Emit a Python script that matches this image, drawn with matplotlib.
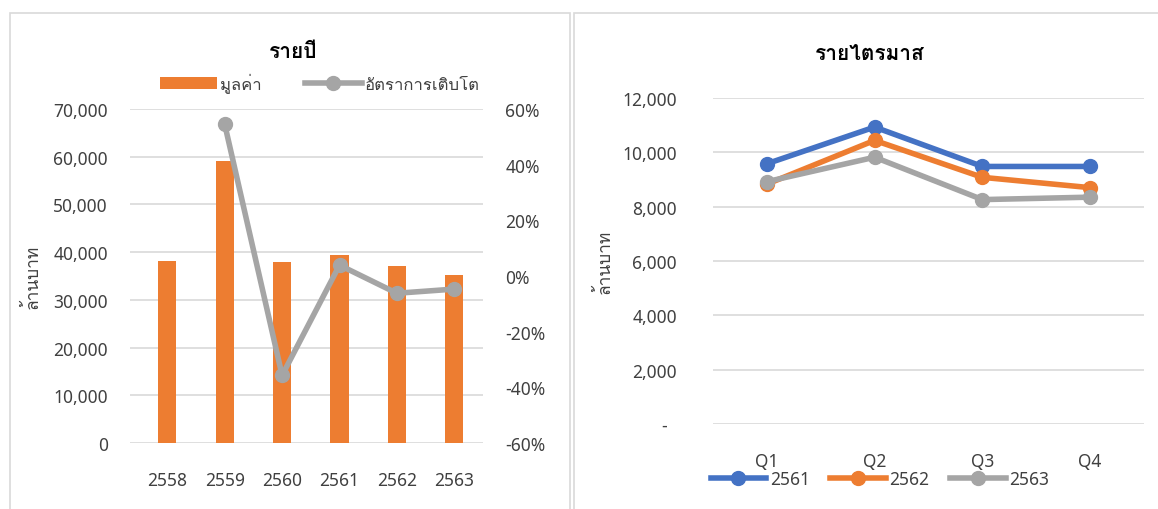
import matplotlib
matplotlib.use("Agg")
import matplotlib.pyplot as plt
from matplotlib import font_manager
from matplotlib.ft2font import FT2Font
from matplotlib.patches import Rectangle, Patch
from matplotlib.lines import Line2D
from matplotlib.ticker import FuncFormatter

# find an installed font that can draw Thai
thai_font = None
for f in font_manager.fontManager.ttflist:
    try:
        if FT2Font(f.fname).get_char_index(ord("ร")):
            thai_font = f.name
            break
    except Exception:
        pass
families = ["Noto Sans"] + ([thai_font] if thai_font else []) + ["DejaVu Sans"]
plt.rcParams["font.family"] = families

# yearly data
years = ["2558", "2559", "2560", "2561", "2562", "2563"]
values = [38200, 59100, 38000, 39500, 37000, 35300]
growth_years = ["2559", "2560", "2561", "2562", "2563"]
growth = [0.545, -0.357, 0.039, -0.062, -0.047]

# quarterly data
quarters = ["Q1", "Q2", "Q3", "Q4"]
q2561 = [9580, 10930, 9480, 9480]
q2562 = [8830, 10440, 9080, 8700]
q2563 = [8920, 9820, 8260, 8350]

ORANGE = "#ED7D31"
GRAY = "#A5A5A5"
BLUE = "#4472C4"
GRID = "#D9D9D9"
TXT = "#404040"

W, H = 1158, 510
fig = plt.figure(figsize=(W / 100, H / 100), dpi=100)

# panel borders
fig.add_artist(Rectangle((10 / W, -0.05), 560 / W, 1.05 - 14 / H, transform=fig.transFigure,
                         fill=False, edgecolor=GRID, linewidth=1.2))
fig.add_artist(Rectangle((574 / W, -0.05), 600 / W, 1.05 - 14 / H, transform=fig.transFigure,
                         fill=False, edgecolor=GRID, linewidth=1.2))

# ---- yearly chart ----
ax1 = fig.add_axes([130 / W, 66 / H, 353 / W, 334 / H])
x = list(range(len(years)))
ax1.bar(x, values, width=0.32, color=ORANGE, zorder=2)
ax1.set_ylim(0, 70000)
ax1.set_yticks(range(0, 70001, 10000))
ax1.yaxis.set_major_formatter(FuncFormatter(lambda v, p: f"{v:,.0f}"))
ax1.set_xlim(-0.65, len(years) - 0.5)
ax1.set_xticks(x, years)
ax1.grid(axis="y", color=GRID, linewidth=1.2, zorder=0)
for s in ax1.spines.values():
    s.set_visible(False)
ax1.tick_params(length=0, labelsize=12.5, colors=TXT)
ax1.tick_params(axis="y", pad=16)
ax1.tick_params(axis="x", pad=20)
ax1.set_ylabel("ล้านบาท", fontsize=12.5, color=TXT, labelpad=8)

ax2 = ax1.twinx()
gx = [years.index(y) for y in growth_years]
ax2.plot(gx, growth, color=GRAY, linewidth=4, marker="o", markersize=10, zorder=3)
ax2.set_ylim(-0.6, 0.6)
ax2.set_yticks([-0.6, -0.4, -0.2, 0, 0.2, 0.4, 0.6])
ax2.yaxis.set_major_formatter(FuncFormatter(lambda v, p: f"{v * 100:.0f}%"))
for s in ax2.spines.values():
    s.set_visible(False)
ax2.tick_params(length=0, labelsize=12.5, colors=TXT, pad=16)

fig.text(293 / W, 1 - 52 / H, "รายปี", ha="center", va="center", fontsize=15,
         fontweight="bold", color="black")
h1 = [Patch(facecolor=ORANGE),
      Line2D([], [], color=GRAY, linewidth=4, marker="o", markersize=10)]
fig.legend(h1, ["มูลค่า", "อัตราการเติบโต"], loc="center", ncol=2,
           bbox_to_anchor=(320 / W, 1 - 84 / H), frameon=False, fontsize=12,
           handlelength=3.4, columnspacing=2.6, handletextpad=0.2, labelcolor=TXT)

# ---- quarterly chart ----
ax3 = fig.add_axes([713 / W, 85 / H, 431 / W, 326 / H])
qx = list(range(len(quarters)))
for vals, c in [(q2561, BLUE), (q2562, ORANGE), (q2563, GRAY)]:
    ax3.plot(qx, vals, color=c, linewidth=4, marker="o", markersize=10, zorder=3)
ax3.set_ylim(0, 12000)
ax3.set_yticks(range(0, 12001, 2000))
ax3.yaxis.set_major_formatter(FuncFormatter(lambda v, p: "-  " if v == 0 else f"{v:,.0f}"))
ax3.set_xlim(-0.5, len(quarters) - 0.5)
ax3.set_xticks(qx, quarters)
ax3.grid(axis="y", color=GRID, linewidth=1.2, zorder=0)
for s in ax3.spines.values():
    s.set_visible(False)
ax3.tick_params(length=0, labelsize=12.5, colors=TXT)
ax3.tick_params(axis="y", pad=26)
ax3.tick_params(axis="x", pad=20)
ax3.set_ylabel("ล้านบาท", fontsize=12.5, color=TXT, labelpad=6)

fig.text(870 / W, 1 - 55 / H, "รายไตรมาส", ha="center", va="center", fontsize=15,
         fontweight="bold", color="black")
h3 = [Line2D([], [], color=c, linewidth=4, marker="o", markersize=10) for c in (BLUE, ORANGE, GRAY)]
fig.legend(h3, ["2561", "2562", "2563"], loc="center", ncol=3,
           bbox_to_anchor=(880 / W, 1 - 480 / H), frameon=False, fontsize=12.5,
           handlelength=3.2, columnspacing=1.2, handletextpad=0.2, labelcolor=TXT)

fig.savefig("out.png", dpi=100)
